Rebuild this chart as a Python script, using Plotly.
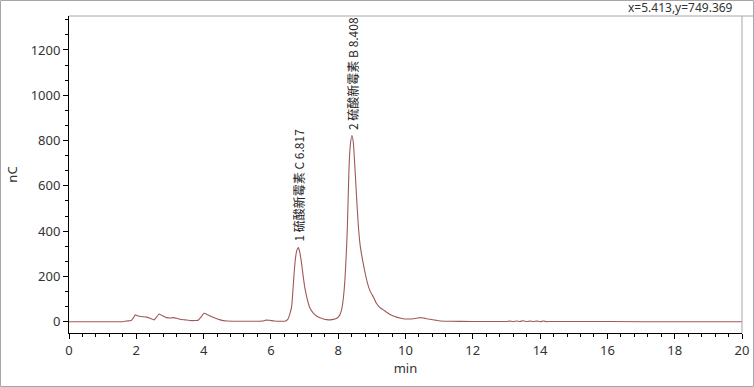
import plotly.graph_objects as go

# ---- data ----
time_min = [0.0, 1.0, 1.6, 1.71, 1.85, 1.92, 1.97, 2.05, 2.18, 2.3, 2.42, 2.53, 2.6, 2.68, 2.75,
            2.9, 3.0, 3.1, 3.2, 3.29, 3.45, 3.59, 3.75, 3.84, 3.92, 4.01, 4.1, 4.19, 4.3, 4.49,
            4.69, 5.0, 5.5, 5.77, 5.85, 5.95, 6.1, 6.3, 6.42, 6.50, 6.57, 6.62, 6.66, 6.69,
            6.73, 6.77, 6.817, 6.86, 6.91, 6.96, 7.01, 7.08, 7.16, 7.26, 7.36, 7.46, 7.56,
            7.66, 7.76, 7.86, 7.96, 8.04, 8.10, 8.15, 8.20, 8.24, 8.27, 8.32, 8.36, 8.408,
            8.45, 8.50, 8.55, 8.60, 8.65, 8.72, 8.80, 8.88, 8.95, 9.05, 9.14, 9.24, 9.34, 9.44,
            9.54, 9.64, 9.74, 9.84, 9.93, 10.03, 10.13, 10.23, 10.33, 10.43, 10.53, 10.63,
            10.73, 10.88, 11.03, 11.3, 12.0, 13.0, 13.1, 13.2, 13.3, 13.4, 13.5, 13.6, 13.7,
            13.8, 13.9, 14.0, 14.1, 14.2, 14.3, 15.0, 17.0, 20.0]
signal_nC = [0, 0, 0, 3, 5, 18, 30, 25, 22, 20, 14, 8, 20, 34, 28,
             18, 16, 18, 15, 11, 8, 5, 5, 6, 20, 37, 32, 25, 18, 8,
             3, 2, 2, 3, 7, 6, 3, 2, 2, 10, 38, 70, 150, 215,
             280, 315, 327, 305, 260, 200, 148, 100, 60, 38, 25, 17, 12,
             9, 8, 10, 15, 28, 52, 100, 185, 300, 407, 674, 780, 822,
             790, 674, 540, 420, 340, 275, 215, 165, 135, 108, 80, 62, 52, 42,
             32, 25, 20, 16, 13, 12, 12, 13, 15, 18, 16, 13,
             11, 7, 3, 2, 1, 1, 3, 0, 3, 1, 4, 0, 3,
             1, 3, 0, 3, 0, 1, 1, 0, 0, 0]

peak_times = [6.817, 8.408]
peak_heights = [327, 822]
peak_labels = ["1 硫酸新霉素 C 6.817", "2 硫酸新霉素 B 8.408"]

x_ticks = [0, 2, 4, 6, 8, 10, 12, 14, 16, 18, 20]
y_ticks = [0, 200, 400, 600, 800, 1000, 1200]
cursor_text = "x=5.413,y=749.369"

W, H = 754, 387
ML, MR, MT, MB = 69, 12, 16, 54
PW, PH = W - ML - MR, H - MT - MB


def px(x):
    return (x - ML) / PW


def py(y):
    return (H - MB - y) / PH


LINE_COLOR = "#9e5858"
GRAY = "#a6a6a6"
TXT = "#333333"

fig = go.Figure()
fig.add_trace(go.Scatter(x=time_min, y=signal_nC, mode="lines",
                         line=dict(color=LINE_COLOR, width=1.1, shape="spline", smoothing=0.4),
                         hoverinfo="skip", showlegend=False))

for t, h, lab in zip(peak_times, peak_heights, peak_labels):
    fig.add_annotation(x=t, y=h, text=lab, textangle=-90, showarrow=False,
                       xanchor="center", yanchor="bottom", yshift=4,
                       font=dict(family="Noto Sans CJK SC, Noto Sans", size=12, color="#222222"))

fig.add_annotation(x=px(735), y=py(8), xref="paper", yref="paper", text=cursor_text,
                   showarrow=False, xanchor="right", yanchor="middle",
                   font=dict(family="Noto Sans", size=12, color=TXT))

# frame / border decorations
fig.add_shape(type="rect", xref="paper", yref="paper",
              x0=px(0.5), x1=px(753.5), y0=py(386.5), y1=py(0.5),
              line=dict(color=GRAY, width=1), layer="below")
fig.add_shape(type="line", xref="paper", yref="paper",
              x0=0, x1=px(754), y0=1, y1=1, line=dict(color=GRAY, width=1))
fig.add_shape(type="line", xref="paper", yref="paper",
              x0=1, x1=1, y0=0, y1=1, line=dict(color=GRAY, width=1))

axis_font = dict(family="Noto Sans", size=13, color=TXT)
fig.update_xaxes(range=[0, 20], tickvals=x_ticks, ticks="outside", ticklen=5, tickwidth=1,
                 tickcolor="#000", showline=True, linecolor="#000", linewidth=1,
                 showgrid=False, zeroline=False, tickfont=axis_font,
                 minor=dict(dtick=0.4, tick0=0, ticks="outside", ticklen=3, tickcolor="#000", showgrid=False),
                 title=dict(text="min", font=axis_font, standoff=6))
fig.update_yaxes(range=[-50, 1350], tickvals=y_ticks, ticks="outside", ticklen=5, tickwidth=1,
                 tickcolor="#000", showline=True, linecolor="#000", linewidth=1,
                 showgrid=False, zeroline=False, tickfont=axis_font,
                 minor=dict(dtick=200 / 3, tick0=0, ticks="outside", ticklen=3, tickcolor="#000", showgrid=False),
                 title=dict(text="nC", font=axis_font, standoff=10))

fig.update_layout(width=W, height=H, margin=dict(l=ML, r=MR, t=MT, b=MB, autoexpand=False),
                  plot_bgcolor="white", paper_bgcolor="white", showlegend=False)

fig.write_html("out.html")
